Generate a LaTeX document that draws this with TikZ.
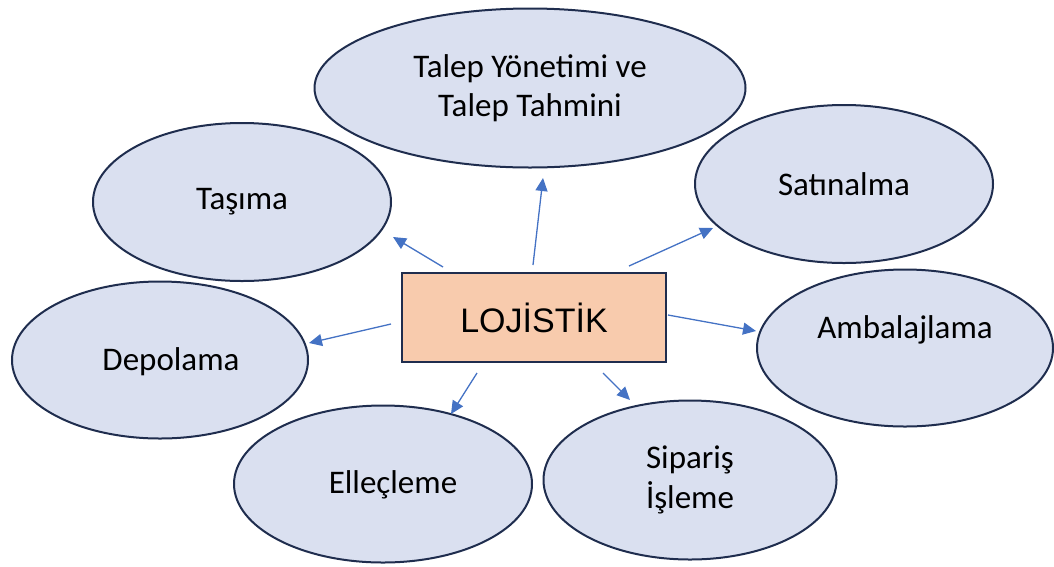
\documentclass[tikz,border=0pt]{standalone}
\usepackage{fontspec}
\setmainfont{Carlito}
\newfontfamily\arialfont{Liberation Sans}
\usetikzlibrary{shapes.geometric,arrows.meta}
\definecolor{ellfill}{HTML}{DAE0F0}
\definecolor{navy}{HTML}{1F2D4E}
\definecolor{peach}{HTML}{F8CBAD}
\definecolor{arrblue}{HTML}{4472C4}
\begin{document}
\begin{tikzpicture}[x=1pt,y=-1pt,
  ell/.style={ellipse,draw=navy,line width=2pt,fill=ellfill,inner sep=0pt,
    minimum width=298pt,minimum height=158pt,
    font=\fontsize{33}{39.5}\selectfont,align=center},
  lab/.style={font=\fontsize{33}{39.5}\selectfont,inner sep=0pt},
  box/.style={rectangle,draw=navy,line width=2.5pt,fill=peach,
    minimum width=264pt,minimum height=89pt,inner sep=0pt,
    font=\arialfont\fontsize{34}{40}\selectfont},
  arr/.style={draw=arrblue,line width=1.3pt,-{Triangle[length=13pt,width=12pt]}}]
\useasboundingbox (0,0) rectangle (1054,566);

\node[ell,minimum width=431pt,minimum height=159pt] (talep) at (530,88) {Talep Yönetimi ve\\Talep Tahmini};
\node[ell] (tasima) at (242,202) {Taşıma};
\node[ell] (satin) at (844,184) {Satınalma};
\node[ell,minimum width=296pt,minimum height=157pt,
  label={[lab,xshift=11pt,yshift=-2pt]center:Depolama}] (depo) at (160,360) {};
\node[ell,minimum width=296pt,minimum height=157pt,
  label={[lab,yshift=18pt]center:Ambalajlama}] (amb) at (905,348) {};
\node[ell,minimum height=157pt,
  label={[lab,xshift=10pt,yshift=-1pt]center:Elleçleme}] (ellec) at (383,484) {};
\node[ell,minimum width=293pt,minimum height=159pt] (sip) at (690,480) {Sipariş\\İşleme};

\node[box] (loj) at (534,317.5) {LOJİSTİK};

\coordinate (s1) at (443,267); \coordinate (e1) at (393,237);
\coordinate (s2) at (533,265); \coordinate (e2) at (543,178);
\coordinate (s3) at (629,266); \coordinate (e3) at (713,228);
\coordinate (s4) at (391,324); \coordinate (e4) at (309,343);
\coordinate (s5) at (668,315); \coordinate (e5) at (756,331);
\coordinate (s6) at (477,373); \coordinate (e6) at (451,414);
\coordinate (s7) at (603,373); \coordinate (e7) at (630,400);

\draw[arr] (s1) -- (e1);
\draw[arr] (s2) -- (e2);
\draw[arr] (s3) -- (e3);
\draw[arr] (s4) -- (e4);
\draw[arr] (s5) -- (e5);
\draw[arr] (s6) -- (e6);
\draw[arr] (s7) -- (e7);
\end{tikzpicture}
\end{document}
